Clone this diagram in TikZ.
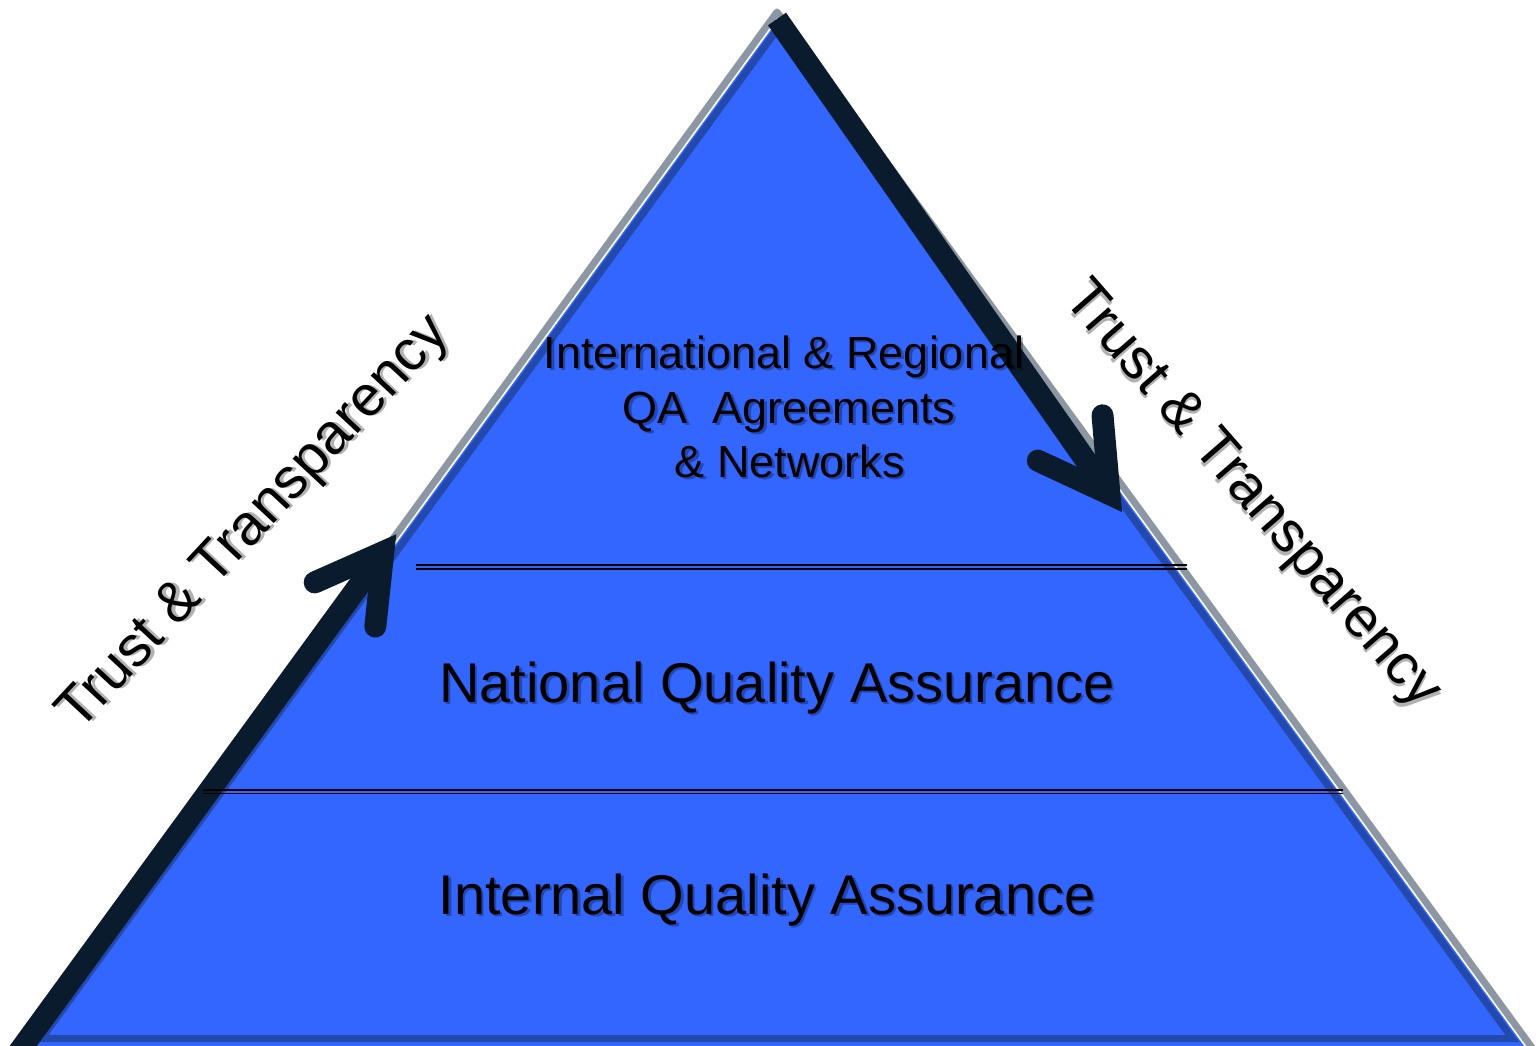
\documentclass[tikz,border=0pt]{standalone}
\usepackage{fontspec}
\setmainfont{Liberation Sans}

\definecolor{pyrblue}{HTML}{3366FF}
\definecolor{pyrband}{HTML}{2449AD}
\definecolor{pyrgray}{HTML}{8D97A3}
\definecolor{pyrnavy}{HTML}{0B1B2E}

% text with a soft drop shadow: name, position, node options, text
\newcommand{\ShadowText}[4]{%
  \node[#3, opacity=.3, xshift=2.5pt, yshift=-2.5pt] (#1-shadow) at (#2) {#4};
  \node[#3] (#1) at (#2) {#4};}

\begin{document}
\begin{tikzpicture}[x=1pt, y=-1pt,
  outline/.style={draw=pyrgray, line width=7pt, line join=round},
  bodyfill/.style={fill=pyrblue},
  innerband/.style={draw=pyrband, line width=7pt, line join=miter},
  arrowshaft/.style={draw=pyrnavy, line width=22pt, line cap=butt},
  arrowtip/.style={draw=pyrnavy, line width=22pt, line cap=round, line join=miter},
  divider/.style={draw=black, line width=1.7pt},
  tiertext/.style={inner sep=0pt, anchor=base, text=black},
  bigtier/.style={tiertext, font=\fontsize{56}{60}\selectfont},
  toptier/.style={tiertext, font=\fontsize{45}{54}\selectfont},
  sidetext/.style={inner sep=0pt, anchor=center, text=black, font=\fontsize{57}{62}\selectfont}]

\useasboundingbox (0,0) rectangle (1536,1046);
\clip (0,0) rectangle (1536,1046);

% pyramid: gray outline, blue body, darker inner band
\coordinate (gTop) at (777,12);
\coordinate (gLeft) at (13,1060);
\coordinate (gRight) at (1541,1060);
\draw[outline] (gTop) -- (gLeft) -- (gRight) -- cycle;

\coordinate (bTop) at (777,21.3);
\coordinate (bLeft) at (29.2,1047);
\coordinate (bRight) at (1524.8,1047);
\fill[bodyfill] (bTop) -- (bLeft) -- (bRight) -- cycle;

\coordinate (iTop) at (777,29.8);
\coordinate (iLeft) at (41.7,1038.5);
\coordinate (iRight) at (1512.3,1038.5);
\draw[innerband] (iTop) -- (iLeft) -- (iRight) -- cycle;

% rising arrow along the left side
\coordinate (lStart) at (13,1060);
\coordinate (lJoint) at (383.3,552);
\coordinate (lBarbA) at (314.7,582.4);
\coordinate (lBarbB) at (375.3,626.6);
\draw[arrowshaft] (lStart) -- (lJoint);
\draw[arrowtip] (lBarbA) -- (lJoint) -- (lBarbB);

% falling arrow along the right side
\coordinate (rStart) at (777,19);
\coordinate (rJoint) at (1109.4,494);
\coordinate (rBarbA) at (1037.8,460.6);
\coordinate (rBarbB) at (1102.5,415.3);
\draw[arrowshaft] (rStart) -- (rJoint);
\draw[arrowtip] (rBarbA) -- (rJoint) -- (rBarbB);

% double dividers between the tiers
\coordinate (d1aL) at (416,565.2);  \coordinate (d1aR) at (1187,565.2);
\coordinate (d1bL) at (416,568.8);  \coordinate (d1bR) at (1187,568.8);
\coordinate (d2aL) at (203,790.2);  \coordinate (d2aR) at (1343,790.2);
\coordinate (d2bL) at (203,793.6);  \coordinate (d2bR) at (1343,793.6);
\draw[divider] (d1aL) -- (d1aR);
\draw[divider] (d1bL) -- (d1bR);
\draw[divider] (d2aL) -- (d2aR);
\draw[divider] (d2bL) -- (d2bR);

% tier labels
\ShadowText{top1}{784,368}{toptier}{International \& Regional}
\ShadowText{top2}{789,423}{toptier}{QA\ \ Agreements}
\ShadowText{top3}{790,477}{toptier}{\& Networks}
\ShadowText{national}{777,702}{bigtier}{National Quality Assurance}
\ShadowText{internal}{767,914}{bigtier}{Internal Quality Assurance}

% side captions
\ShadowText{trustL}{255,524}{sidetext, rotate=47}{Trust \& Transparency}
\ShadowText{trustR}{1251,496}{sidetext, rotate=-49}{Trust \& Transparency}

\end{tikzpicture}
\end{document}
